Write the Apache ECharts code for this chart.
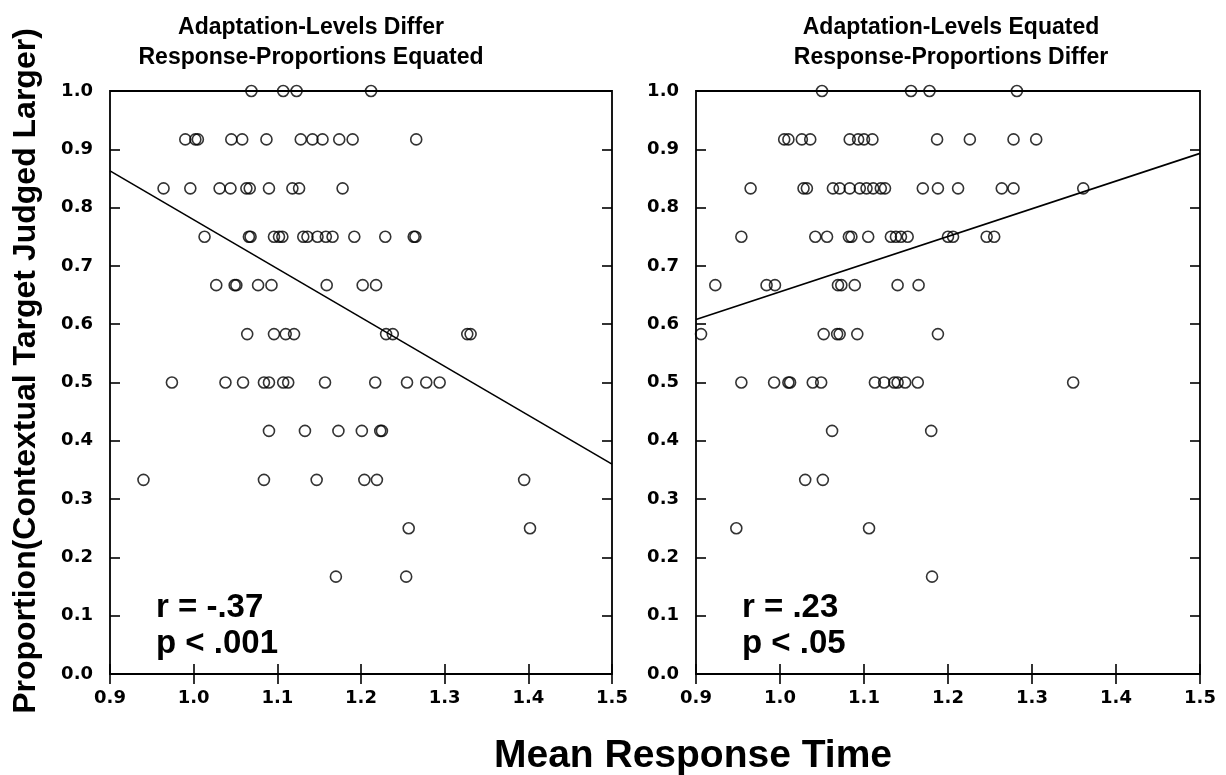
<!DOCTYPE html>
<html>
<head>
<meta charset="utf-8">
<script src="https://cdn.jsdelivr.net/npm/echarts@6/dist/echarts.min.js"></script>
<style>
  html, body { margin: 0; padding: 0; background: #fff; }
  #chart { width: 1226px; height: 775px; }
</style>
</head>
<body>
<div id="chart"></div>
<script>
// left panel: adaptation-levels differ, response-proportions equated
// [mean response time, proportion judged larger]
var leftPoints = [
  [1.069, 1.0], [1.107, 1.0], [1.123, 1.0], [1.212, 1.0],
  [0.990, 0.917], [1.002, 0.917], [1.005, 0.917], [1.045, 0.917], [1.058, 0.917], [1.087, 0.917],
  [1.128, 0.917], [1.142, 0.917], [1.154, 0.917], [1.174, 0.917], [1.190, 0.917], [1.266, 0.917],
  [0.964, 0.833], [0.996, 0.833], [1.031, 0.833], [1.044, 0.833], [1.063, 0.833], [1.067, 0.833],
  [1.090, 0.833], [1.118, 0.833], [1.126, 0.833], [1.178, 0.833],
  [1.013, 0.75], [1.066, 0.75], [1.068, 0.75], [1.096, 0.75], [1.102, 0.75], [1.106, 0.75],
  [1.131, 0.75], [1.136, 0.75], [1.148, 0.75], [1.158, 0.75], [1.166, 0.75], [1.192, 0.75],
  [1.229, 0.75], [1.263, 0.75], [1.265, 0.75],
  [1.027, 0.667], [1.049, 0.667], [1.051, 0.667], [1.077, 0.667], [1.093, 0.667], [1.159, 0.667],
  [1.202, 0.667], [1.218, 0.667],
  [1.064, 0.583], [1.096, 0.583], [1.110, 0.583], [1.120, 0.583], [1.230, 0.583], [1.238, 0.583],
  [1.327, 0.583], [1.331, 0.583],
  [0.974, 0.5], [1.038, 0.5], [1.059, 0.5], [1.084, 0.5], [1.090, 0.5], [1.107, 0.5],
  [1.113, 0.5], [1.157, 0.5], [1.217, 0.5], [1.255, 0.5], [1.278, 0.5], [1.294, 0.5],
  [1.090, 0.417], [1.133, 0.417], [1.173, 0.417], [1.201, 0.417], [1.223, 0.417], [1.225, 0.417],
  [0.940, 0.333], [1.084, 0.333], [1.147, 0.333], [1.204, 0.333], [1.219, 0.333], [1.395, 0.333],
  [1.257, 0.25], [1.402, 0.25],
  [1.170, 0.167], [1.254, 0.167]
];
var leftFit = [[0.9, 0.863], [1.5, 0.36]];

// right panel: adaptation-levels equated, response-proportions differ
var rightPoints = [
  [1.050, 1.0], [1.156, 1.0], [1.178, 1.0], [1.282, 1.0],
  [1.005, 0.917], [1.010, 0.917], [1.026, 0.917], [1.036, 0.917], [1.083, 0.917], [1.093, 0.917],
  [1.100, 0.917], [1.110, 0.917], [1.187, 0.917], [1.226, 0.917], [1.278, 0.917], [1.305, 0.917],
  [0.965, 0.833], [1.028, 0.833], [1.032, 0.833], [1.063, 0.833], [1.071, 0.833], [1.083, 0.833],
  [1.095, 0.833], [1.103, 0.833], [1.111, 0.833], [1.120, 0.833], [1.125, 0.833], [1.170, 0.833],
  [1.188, 0.833], [1.212, 0.833], [1.264, 0.833], [1.278, 0.833], [1.361, 0.833],
  [0.954, 0.75], [1.042, 0.75], [1.056, 0.75], [1.082, 0.75], [1.085, 0.75], [1.105, 0.75],
  [1.132, 0.75], [1.138, 0.75], [1.144, 0.75], [1.152, 0.75], [1.200, 0.75], [1.206, 0.75],
  [1.246, 0.75], [1.255, 0.75],
  [0.923, 0.667], [0.984, 0.667], [0.994, 0.667], [1.069, 0.667], [1.073, 0.667], [1.089, 0.667],
  [1.140, 0.667], [1.165, 0.667],
  [0.906, 0.583], [1.052, 0.583], [1.068, 0.583], [1.071, 0.583], [1.092, 0.583], [1.188, 0.583],
  [0.954, 0.5], [0.993, 0.5], [1.010, 0.5], [1.012, 0.5], [1.039, 0.5], [1.049, 0.5],
  [1.113, 0.5], [1.124, 0.5], [1.136, 0.5], [1.140, 0.5], [1.149, 0.5], [1.164, 0.5], [1.349, 0.5],
  [1.062, 0.417], [1.180, 0.417],
  [1.030, 0.333], [1.051, 0.333],
  [0.948, 0.25], [1.106, 0.25],
  [1.181, 0.167]
];
var rightFit = [[0.9, 0.608], [1.5, 0.893]];

var panelTitles = ['Adaptation-Levels Differ\nResponse-Proportions Equated',
                   'Adaptation-Levels Equated\nResponse-Proportions Differ'];
var statsText = ['r = -.37\np < .001', 'r = .23\np < .05'];

var chart = echarts.init(document.getElementById('chart'));

var tickFont = { fontFamily: 'DejaVu Sans', fontWeight: 'bold', fontSize: 18, color: '#000' };

function xAx(grid, pos, labels) {
  return {
    type: 'value', gridIndex: grid, position: pos, min: 0.9, max: 1.5, interval: 0.1,
    axisLine: { show: false },
    axisTick: { show: true, inside: true, length: 10, lineStyle: { color: '#000', width: 1.6 } },
    axisLabel: Object.assign({ show: labels, margin: 15, formatter: function (v) { return v.toFixed(1); } }, tickFont),
    splitLine: { show: false }
  };
}
function yAx(grid, pos, labels) {
  return {
    type: 'value', gridIndex: grid, position: pos, min: 0, max: 1, interval: 0.1,
    axisLine: { show: false },
    axisTick: { show: true, inside: true, length: 10, lineStyle: { color: '#000', width: 1.6 } },
    axisLabel: Object.assign({ show: labels, margin: 17, formatter: function (v) { return v.toFixed(1); } }, tickFont),
    splitLine: { show: false }
  };
}

// open circles, outlines stay visible where they overlap
var circle = {
  type: 'scatter', symbol: 'circle', symbolSize: 11,
  itemStyle: { color: 'rgba(0,0,0,0)', borderColor: '#000', borderWidth: 1.6 }
};
var fitLine = {
  type: 'line', symbol: 'none', lineStyle: { color: '#000', width: 1.6 }
};

var titleStyle = { fontFamily: 'Liberation Sans', fontWeight: 'bold', fontSize: 23, lineHeight: 30, color: '#000' };

var option = {
  backgroundColor: '#fff',
  animation: false,
  title: [
    { text: panelTitles[0], left: 306, top: 8, textAlign: 'center', textStyle: titleStyle },
    { text: panelTitles[1], left: 946, top: 8, textAlign: 'center', textStyle: titleStyle }
  ],
  grid: [
    { left: 110, top: 91, width: 502, height: 583, show: true, borderColor: '#000', borderWidth: 1.8 },
    { left: 696, top: 91, width: 504, height: 583, show: true, borderColor: '#000', borderWidth: 1.8 }
  ],
  xAxis: [xAx(0, 'bottom', true), xAx(0, 'top', false), xAx(1, 'bottom', true), xAx(1, 'top', false)],
  yAxis: [yAx(0, 'left', true), yAx(0, 'right', false), yAx(1, 'left', true), yAx(1, 'right', false)],
  series: [
    Object.assign({ xAxisIndex: 0, yAxisIndex: 0, data: leftPoints }, circle),
    Object.assign({ xAxisIndex: 0, yAxisIndex: 0, data: leftFit }, fitLine),
    Object.assign({ xAxisIndex: 2, yAxisIndex: 2, data: rightPoints }, circle),
    Object.assign({ xAxisIndex: 2, yAxisIndex: 2, data: rightFit }, fitLine)
  ],
  graphic: [
    { type: 'text', left: 156, top: 590,
      style: { text: statsText[0], font: 'bold 33px "Liberation Sans"', lineHeight: 36, fill: '#000' } },
    { type: 'text', left: 742, top: 590,
      style: { text: statsText[1], font: 'bold 33px "Liberation Sans"', lineHeight: 36, fill: '#000' } },
    { type: 'text', x: 26, y: 371, rotation: Math.PI / 2,
      style: { text: 'Proportion(Contextual Target Judged Larger)', font: 'bold 32px "Liberation Sans"',
               fill: '#000', align: 'center', verticalAlign: 'middle' } },
    { type: 'text', x: 693, y: 756,
      style: { text: 'Mean Response Time', font: 'bold 39px "Liberation Sans"',
               fill: '#000', align: 'center', verticalAlign: 'middle' } }
  ]
};
chart.setOption(option);
</script>
</body>
</html>
